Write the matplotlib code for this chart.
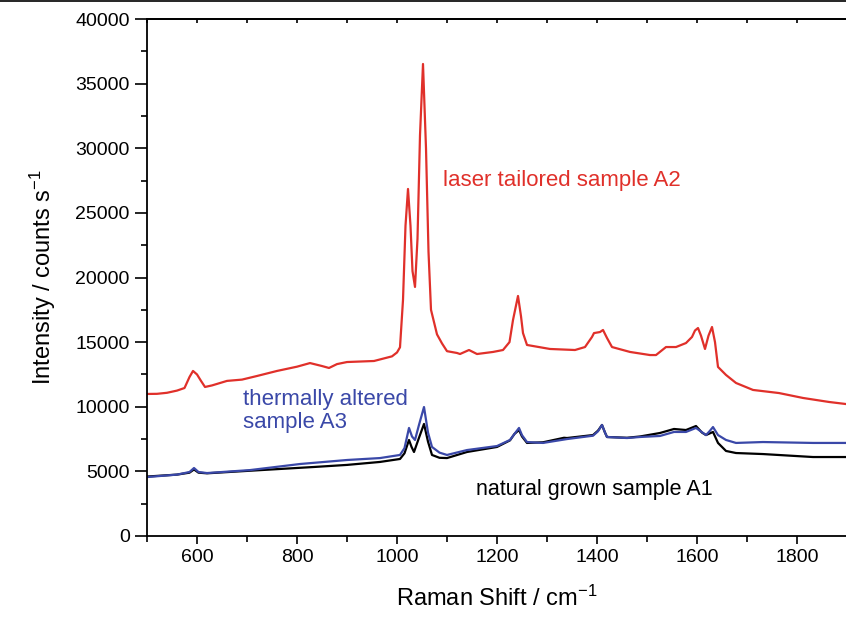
import matplotlib
matplotlib.use("Agg")
import matplotlib.pyplot as plt
from matplotlib.lines import Line2D
from matplotlib.ticker import MultipleLocator

plt.rcParams["font.family"] = ["Liberation Sans", "DejaVu Sans"]
plt.rcParams["mathtext.default"] = "regular"

# laser tailored sample A2 (red)
a2_shift = [500, 520, 540, 560, 575, 585, 592, 600, 608, 616, 630, 660, 690, 720,
            760, 800, 826, 850, 864, 880, 900, 954, 990, 1000, 1006, 1012, 1017,
            1022, 1027, 1031, 1036, 1041, 1046, 1052, 1058, 1063, 1068, 1080, 1090,
            1100, 1120, 1126, 1144, 1160, 1192, 1212, 1225, 1232, 1242, 1248, 1252,
            1260, 1306, 1356, 1376, 1390, 1394, 1406, 1412, 1420, 1430, 1466, 1506,
            1518, 1538, 1558, 1578, 1590, 1596, 1602, 1608, 1616, 1623, 1630, 1636,
            1642, 1658, 1678, 1712, 1764, 1812, 1864, 1898]
a2_int = [10990, 11000, 11080, 11250, 11450, 12300, 12770, 12500, 12000, 11530,
          11650, 12000, 12100, 12380, 12770, 13100, 13380, 13150, 13000, 13300,
          13460, 13540, 13900, 14200, 14600, 18260, 24000, 26850, 24000, 20500,
          19270, 23000, 31000, 36520, 30000, 22000, 17500, 15600, 14900, 14300,
          14160, 14080, 14390, 14080, 14240, 14390, 15000, 16710, 18570, 17000,
          15700, 14780, 14470, 14390, 14620, 15400, 15700, 15780, 15940, 15320,
          14620, 14240, 14000, 14000, 14620, 14620, 14930, 15400, 15900, 16090,
          15500, 14470, 15500, 16170, 15000, 13080, 12460, 11840, 11300, 11060,
          10680, 10370, 10210]

# thermally altered sample A3 (blue)
a3_shift = [500, 560, 585, 594, 603, 620, 706, 806, 900, 966, 1006, 1015, 1024,
            1030, 1036, 1044, 1054, 1062, 1070, 1085, 1100, 1140, 1200, 1226, 1235,
            1244, 1250, 1260, 1292, 1340, 1392, 1402, 1410, 1416, 1420, 1460, 1486,
            1526, 1554, 1578, 1598, 1618, 1625, 1632, 1642, 1658, 1678, 1732, 1832,
            1898]
a3_int = [4560, 4750, 4950, 5260, 4950, 4870, 5100, 5570, 5880, 6030, 6270, 6800,
          8360, 7700, 7430, 8600, 9980, 8000, 6890, 6450, 6270, 6650, 6960, 7430,
          7900, 8360, 7800, 7270, 7200, 7500, 7760, 8100, 8590, 8000, 7660, 7580,
          7660, 7740, 8050, 8050, 8360, 7810, 8100, 8430, 7810, 7430, 7200, 7270,
          7200, 7200]

# natural grown sample A1 (black)
a1_shift = [500, 560, 585, 594, 603, 620, 706, 834, 900, 966, 1006, 1015, 1024,
            1029, 1034, 1044, 1054, 1062, 1070, 1085, 1100, 1140, 1200, 1226, 1235,
            1244, 1250, 1260, 1292, 1334, 1340, 1392, 1402, 1410, 1416, 1420, 1460,
            1486, 1526, 1554, 1578, 1598, 1610, 1618, 1632, 1642, 1658, 1678, 1732,
            1832, 1898]
a1_int = [4600, 4750, 4900, 5150, 4900, 4850, 5050, 5340, 5500, 5730, 5960, 6400,
          7430, 6900, 6500, 7600, 8670, 7300, 6270, 6050, 6030, 6500, 6890, 7400,
          7900, 8200, 7700, 7200, 7250, 7600, 7580, 7810, 8150, 8590, 8000, 7660,
          7600, 7700, 7970, 8280, 8200, 8510, 8000, 7810, 8050, 7200, 6580, 6420,
          6340, 6110, 6110]

RED = "#e0302a"
BLUE = "#3a48a8"

fig = plt.figure(figsize=(8.46, 6.2), dpi=100)
ax = fig.add_axes([147 / 846, 84 / 620, 1 - 147 / 846, 517 / 620])

ax.plot(a1_shift, a1_int, color="black", lw=1.6)
ax.plot(a3_shift, a3_int, color=BLUE, lw=1.6)
ax.plot(a2_shift, a2_int, color=RED, lw=1.6)

ax.set_xlim(500, 1898)
ax.set_ylim(0, 40000)
ax.xaxis.set_minor_locator(MultipleLocator(100))
ax.yaxis.set_major_locator(MultipleLocator(5000))
ax.yaxis.set_minor_locator(MultipleLocator(2500))
ax.set_xticks([600, 800, 1000, 1200, 1400, 1600, 1800])

ax.spines["right"].set_visible(False)
for s in ax.spines.values():
    s.set_linewidth(1.3)

ax.tick_params(axis="both", which="major", labelsize=14, width=1.2, direction="out")
ax.tick_params(axis="x", which="major", length=6)
ax.tick_params(axis="x", which="minor", length=4, width=1.2)
ax.tick_params(axis="y", which="major", length=9)
ax.tick_params(axis="y", which="minor", length=4, width=1.2)

# top spine ticks pointing inwards
top = ax.secondary_xaxis("top")
top.xaxis.set_major_locator(MultipleLocator(100))
top.tick_params(direction="in", length=3, width=1.2, labeltop=False)
top.spines["top"].set_linewidth(1.3)

ax.set_xlabel(r"Raman Shift / cm$^{-1}$", fontsize=17, labelpad=14)
ax.set_ylabel(r"Intensity / counts s$^{-1}$", fontsize=17, labelpad=12)

ax.text(1092, 27540, "laser tailored sample A2", color=RED, fontsize=16,
        va="center", ha="left")
ax.text(692, 9650, "thermally altered\nsample A3", color=BLUE, fontsize=16,
        va="center", ha="left", linespacing=1.15)
ax.text(1158, 3560, "natural grown sample A1", color="black", fontsize=15.5,
        va="center", ha="left")

fig.add_artist(Line2D([0, 1], [0.999, 0.999], color="black", lw=1.2,
                      transform=fig.transFigure))

fig.savefig("out.png", dpi=100)
